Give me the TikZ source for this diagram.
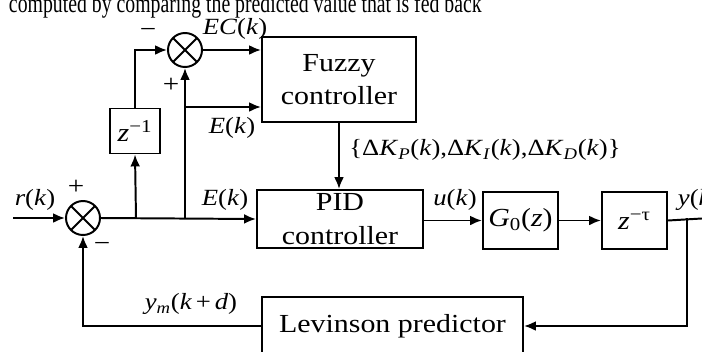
\documentclass[tikz,border=0pt]{standalone}
\usepackage{fontspec}
\setmainfont{Liberation Serif}
\newfontfamily\widefont[FakeStretch=1.15]{Liberation Serif}
\usetikzlibrary{arrows.meta}
\newcommand{\px}{0.025cm}

\begin{document}
\begin{tikzpicture}[x=\px, y=-\px, line width=1.4pt, >={Latex[length=8.5pt,width=7pt]},
    block/.style={draw, rectangle, inner sep=0pt, align=center, font=\widefont\fontsize{18.5}{24}\selectfont},
    sum/.style={draw, circle, inner sep=0pt, minimum size=34*\px,
        path picture={\draw[line width=1.4pt] (path picture bounding box.north west) -- (path picture bounding box.south east)
            (path picture bounding box.north east) -- (path picture bounding box.south west);}},
    lbl/.style={inner sep=0pt, font=\widefont\fontsize{16.5}{18}\selectfont},
    sgn/.style={inner sep=0pt, font=\widefont\fontsize{18}{20}\selectfont}]
    \useasboundingbox (0,0) rectangle (702,351);
    \clip (0,0) rectangle (702,351);

    % line of text above the figure
    \node[anchor=base west, inner sep=0pt, font=\fontsize{19}{21}\selectfont] (caption) at (8,12.7)
        {\scalebox{0.74}[1]{computed by comparing the predicted value that is fed back}};

    % blocks
    \node[sum] (sumA) at (83,218) {};
    \node[sum] (sumB) at (185,50) {};
    \node[block, minimum width=50*\px, minimum height=45*\px] (zinv) at (135,131) {\textit{z}\textsuperscript{−1}};
    \node[block, minimum width=154*\px, minimum height=85*\px] (fuzzy) at (339,79.5) {Fuzzy\\controller};
    \node[block, minimum width=166*\px, minimum height=58*\px] (pid) at (340,219) {PID\\controller};
    \node[block, minimum width=75*\px, minimum height=57*\px] (plant) at (520.5,220.5) {\textit{G}\textsubscript{0}(\textit{z})};
    \node[block, minimum width=65*\px, minimum height=57*\px] (delay) at (634.5,220.5) {\textit{z}\textsuperscript{−τ}};
    \node[block, minimum width=261*\px, minimum height=58*\px] (lev) at (392.5,326) {Levinson predictor};

    % branch points and free ends
    \coordinate (in) at (13,218);
    \coordinate (brZ) at (136,218);
    \coordinate (brE) at (185,218);
    \coordinate (brF) at (185,107);
    \coordinate (brY) at (687,218);
    \coordinate (out) at (710,218);

    % signal lines
    \draw[->] (in) -- (sumA.west);
    \draw[->] (sumA.east) -- (pid.west);
    \draw[->] (brZ) -- (zinv.south);
    \draw[->] (zinv.north) |- (sumB.west);
    \draw[->] (brE) -- (sumB.south);
    \draw[->] (brF) -- (fuzzy.west |- brF);
    \draw[->] (sumB.east) -- (fuzzy.west |- sumB);
    \draw[->] (fuzzy.south) -- (fuzzy.south |- pid.north);
    \draw[->] (pid.east |- plant.west) -- (plant.west);
    \draw[->] (plant.east) -- (delay.west);
    \draw (delay.east) -- (out);
    \draw[->] (brY) |- (lev.east);
    \draw[->] (lev.west) -| (sumA.south);

    % labels
    \node[lbl] (rk) at (35,200) {\textit{r}(\textit{k})};
    \node[sgn] (pA) at (76,187) {+};
    \node[sgn] (mA) at (102,247) {−};
    \node[sgn] (mB) at (148,33) {−};
    \node[sgn] (pB) at (171,85) {+};
    \node[lbl] (ec) at (235,29) {\textit{EC}(\textit{k})};
    \node[lbl] (eF) at (232,128) {\textit{E}(\textit{k})};
    \node[lbl] (eP) at (225,200) {\textit{E}(\textit{k})};
    \node[lbl] (dk) at (485,150) {\{Δ\textit{K}\textsubscript{\textit{P}}(\textit{k}),Δ\textit{K}\textsubscript{\textit{I}}(\textit{k}),Δ\textit{K}\textsubscript{\textit{D}}(\textit{k})\}};
    \node[lbl] (uk) at (455,200) {\textit{u}(\textit{k})};
    \node[lbl, anchor=west] (yk) at (677,200) {\textit{y}(\textit{k})};
    \node[lbl] (ym) at (191,304) {\textit{y}\textsubscript{\textit{m}}(\textit{k}\,+\,\textit{d})};
\end{tikzpicture}
\end{document}
